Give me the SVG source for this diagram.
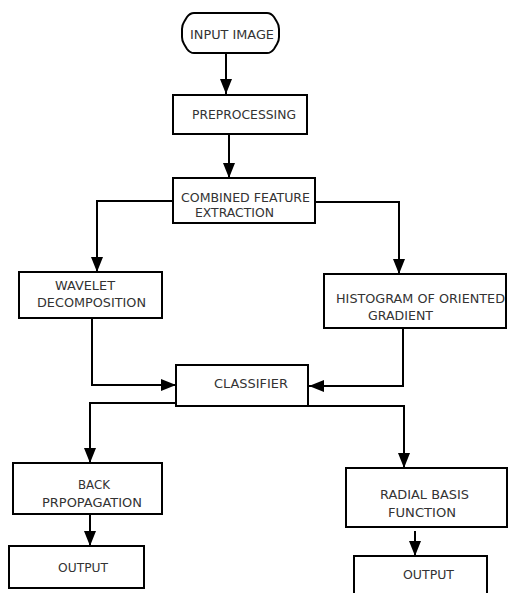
<svg xmlns="http://www.w3.org/2000/svg" width="508" height="593" viewBox="0 0 508 593">
<defs>
<marker id="ah" viewBox="0 0 15 12" refX="15" refY="6" markerWidth="15" markerHeight="12" markerUnits="userSpaceOnUse" orient="auto">
<path d="M0,0 L15,6 L0,12 z" fill="#000"/>
</marker>
<style>
.box{fill:#fff;stroke:#000;stroke-width:2}
.t{font-family:"DejaVu Sans",Verdana,sans-serif;font-size:13px;fill:#333}
.c{fill:none;stroke:#000;stroke-width:2;marker-end:url(#ah)}
</style>
</defs>
<rect width="508" height="593" fill="#fff"/>
<g id="connectors">
<path class="c" d="M226,53 V94"/>
<path class="c" d="M229,134 V178"/>
<path class="c" d="M173,201 H97 V272"/>
<path class="c" d="M315,202 H399 V274"/>
<path class="c" d="M92,318 V385 H176"/>
<path class="c" d="M403,328 V386 H309"/>
<path class="c" d="M176,403 H90 V463"/>
<path class="c" d="M308,406 H404 V468"/>
<path class="c" d="M90,514 V546"/>
<path class="c" d="M415,531 V556"/>
</g>
<g id="input">
<path class="box" d="M194,13 H267 Q271,13 274,17 L277,22 Q279,25 279,29 V37 Q279,41 277,44 L274,49 Q271,53 267,53 H194 Q190,53 187,49 L184,44 Q182,41 182,37 V29 Q182,25 184,22 L187,17 Q190,13 194,13 Z"/>
<text class="t" x="190" y="39" textLength="84" lengthAdjust="spacingAndGlyphs">INPUT IMAGE</text>
</g>
<g id="preprocessing">
<rect class="box" x="173" y="95" width="134" height="39"/>
<text class="t" x="192" y="119" textLength="104" lengthAdjust="spacingAndGlyphs">PREPROCESSING</text>
</g>
<g id="combined">
<rect class="box" x="173" y="178" width="142" height="45"/>
<text class="t" x="181" y="202" textLength="129" lengthAdjust="spacingAndGlyphs">COMBINED FEATURE</text>
<text class="t" x="195" y="217" textLength="79" lengthAdjust="spacingAndGlyphs">EXTRACTION</text>
</g>
<g id="wavelet">
<rect class="box" x="19" y="272" width="143" height="46"/>
<text class="t" x="55" y="290" textLength="60" lengthAdjust="spacingAndGlyphs">WAVELET</text>
<text class="t" x="37" y="307" textLength="109" lengthAdjust="spacingAndGlyphs">DECOMPOSITION</text>
</g>
<g id="hog">
<rect class="box" x="324" y="274" width="182" height="54"/>
<text class="t" x="336" y="303" textLength="169" lengthAdjust="spacingAndGlyphs">HISTOGRAM OF ORIENTED</text>
<text class="t" x="368" y="320" textLength="65" lengthAdjust="spacingAndGlyphs">GRADIENT</text>
</g>
<g id="classifier">
<rect class="box" x="176" y="365" width="132" height="41"/>
<text class="t" x="214" y="388" textLength="74" lengthAdjust="spacingAndGlyphs">CLASSIFIER</text>
</g>
<g id="backprop">
<rect class="box" x="13" y="463" width="149" height="51"/>
<text class="t" x="78" y="489" textLength="32" lengthAdjust="spacingAndGlyphs">BACK</text>
<text class="t" x="42" y="507" textLength="100" lengthAdjust="spacingAndGlyphs">PRPOPAGATION</text>
</g>
<g id="output1">
<rect class="box" x="9" y="546" width="135" height="42"/>
<text class="t" x="58" y="572" textLength="50" lengthAdjust="spacingAndGlyphs">OUTPUT</text>
</g>
<g id="rbf">
<rect class="box" x="346" y="468" width="161" height="59"/>
<text class="t" x="380" y="499" textLength="89" lengthAdjust="spacingAndGlyphs">RADIAL BASIS</text>
<text class="t" x="388" y="517" textLength="68" lengthAdjust="spacingAndGlyphs">FUNCTION</text>
</g>
<g id="output2">
<rect class="box" x="354" y="556" width="133" height="40"/>
<text class="t" x="403" y="579" textLength="51" lengthAdjust="spacingAndGlyphs">OUTPUT</text>
</g>
</svg>
